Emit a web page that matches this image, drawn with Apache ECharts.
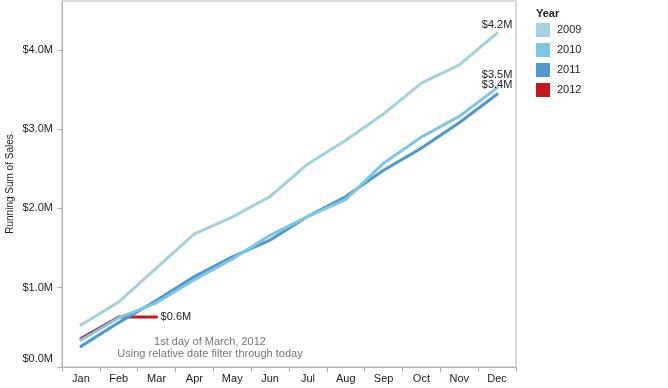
<!DOCTYPE html>
<html>
<head>
<meta charset="utf-8">
<script src="https://cdn.jsdelivr.net/npm/echarts@6/dist/echarts.min.js"></script>
<style>
html,body{margin:0;padding:0;background:#fff;}
#c{width:668px;height:388px;}
</style>
</head>
<body>
<div id="c"></div>
<script>
const months = ['Jan','Feb','Mar','Apr','May','Jun','Jul','Aug','Sep','Oct','Nov','Dec'];
const years = ['2009','2010','2011','2012'];
const sales2009 = [0.53,0.82,1.25,1.68,1.89,2.15,2.56,2.86,3.19,3.58,3.81,4.21];
const sales2010 = [0.34,0.62,0.81,1.10,1.36,1.66,1.90,2.11,2.57,2.90,3.16,3.52];
const sales2011 = [0.26,0.56,0.84,1.14,1.39,1.60,1.90,2.15,2.48,2.76,3.08,3.44];
const sales2012 = [0.36,0.63,0.63,null,null,null,null,null,null,null,null,null];
const yTicks = [0,1,2,3,4];
const noteLines = ['1st day of March, 2012','Using relative date filter through today'];

const colors = {'2009':'#a3d1de','2010':'#7cc7e1','2011':'#4f9ac9','2012':'#c8161d'};
const fmt = v => '$' + v.toFixed(1) + 'M';

function withEndLabel(arr, labelOpt){
  let last = -1;
  arr.forEach((v,i)=>{ if(v!==null) last=i; });
  return arr.map((v,i)=> i===last ? {value:v, label:Object.assign({show:true, formatter:p=>fmt(p.value), color:'#222', fontSize:11, fontFamily:'Arial, Liberation Sans'}, labelOpt)} : v);
}

function lineSeries(name, arr, labelOpt){
  return {
    name, type:'line', data: withEndLabel(arr, labelOpt),
    showSymbol:true, symbol:'circle', symbolSize:0.01, silent:true, animation:false,
    itemStyle:{color: colors[name]},
    color: colors[name],
    label:{show:false},
    lineStyle:{width:3, color:colors[name], cap:'round', join:'round'},
    connectNulls:false
  };
}

const chart = echarts.init(document.getElementById('c'), null, {renderer:'canvas'});
chart.setOption({
  animation:false,
  textStyle:{fontFamily:'Arial, Liberation Sans'},
  title:{text:'Year', left:531, top:3, textStyle:{fontSize:11, fontWeight:'bold', color:'#222'}},
  legend:{
    orient:'vertical', left:531, top:18, itemWidth:14, itemHeight:14, itemGap:6,
    icon:'rect', data:years, selectedMode:false,
    itemStyle:{opacity:1},
    textStyle:{fontSize:11, color:'#222', padding:[0,0,0,2]}
  },
  grid:{left:62, right:152, top:1, bottom:21, show:true, borderColor:'#b4b4b4', borderWidth:1, containLabel:false, outerBoundsMode:'none'},
  xAxis:{
    type:'category', data:months, boundaryGap:true,
    axisLine:{show:true, lineStyle:{color:'#b4b4b4'}},
    axisTick:{show:true, interval:0, alignWithLabel:false, length:5, lineStyle:{color:'#b4b4b4'}},
    axisLabel:{margin:6, fontSize:11, color:'#222', interval:0}
  },
  yAxis:{
    type:'value', min:0, max:4.615, interval:1,
    name:'Running Sum of Sales', nameLocation:'middle', nameGap:47, nameRotate:90,
    nameMoveOverlap:false,
    nameTextStyle:{fontSize:10, color:'#222'},
    splitLine:{show:false},
    axisLine:{show:true, lineStyle:{color:'#b4b4b4'}},
    axisTick:{show:true, length:5, lineStyle:{color:'#b4b4b4'}, customValues:yTicks},
    axisLabel:{
      customValues:yTicks, margin:9, fontSize:11, color:'#222',
      formatter:v => v===0 ? '{z|'+fmt(v)+'}' : fmt(v),
      rich:{z:{fontSize:11, color:'#222', padding:[0,0,16,0]}}
    }
  },
  graphic:[
    {type:'text', x:210, y:342, style:{text:noteLines[0], fill:'#777', font:'11px Arial, Liberation Sans', textAlign:'center', textVerticalAlign:'middle'}},
    {type:'text', x:210, y:354, style:{text:noteLines[1], fill:'#777', font:'11px Arial, Liberation Sans', textAlign:'center', textVerticalAlign:'middle'}}
  ],
  series:[
    lineSeries('2012', sales2012, {position:'right', distance:4}),
    lineSeries('2009', sales2009, {position:'top', distance:3}),
    lineSeries('2011', sales2011, {position:'top', distance:4}),
    lineSeries('2010', sales2010, {position:'top', distance:7})
  ]
});
</script>
</body>
</html>
